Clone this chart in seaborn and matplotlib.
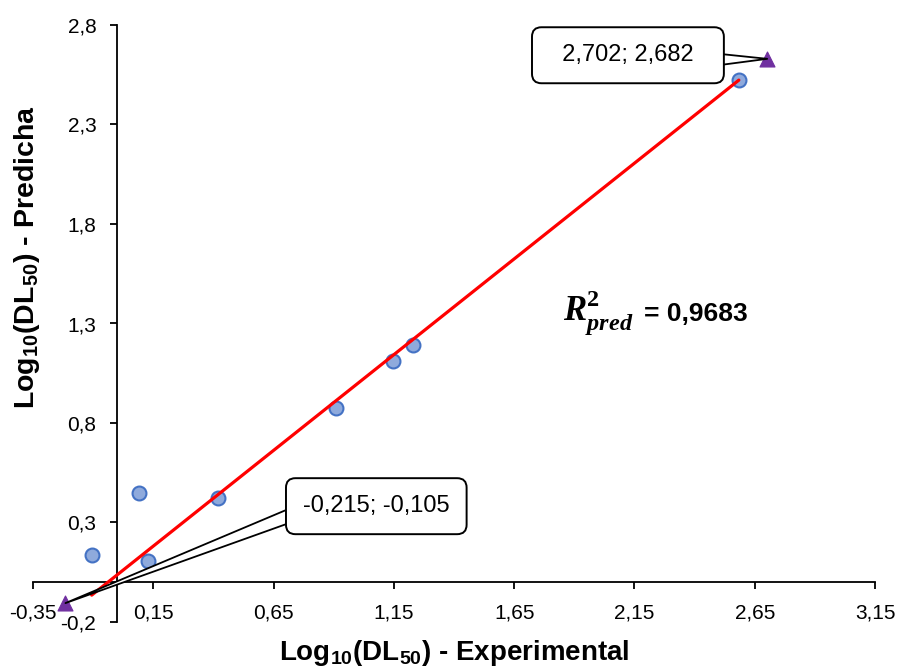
import numpy as np
import pandas as pd
import matplotlib
matplotlib.use("Agg")
import matplotlib.pyplot as plt
import seaborn as sns


# DATA

exp_vals = [-0.105, 0.090, 0.128, 0.420, 0.910, 1.146, 1.229, 2.584]
pred_vals = [0.136, 0.447, 0.106, 0.422, 0.874, 1.110, 1.190, 2.523]

# trend line as drawn in the chart (endpoints)
fit_x = [-0.106, 2.584]
fit_y = [-0.065, 2.523]

# highlighted points (purple triangles)
tri_x = [-0.215, 2.702]
tri_y = [-0.105, 2.630]
tri_labels = ["-0,215; -0,105", "  2,702; 2,682  "]

x_ticks = [-0.35, 0.15, 0.65, 1.15, 1.65, 2.15, 2.65, 3.15]
x_ticklabels = ["-0,35", "0,15", "0,65", "1,15", "1,65", "2,15", "2,65", "3,15"]
y_ticks = [-0.2, 0.3, 0.8, 1.3, 1.8, 2.3, 2.8]
y_ticklabels = ["-0,2", "0,3", "0,8", "1,3", "1,8", "2,3", "2,8"]

r2_math = r"$\mathbfit{R}^{\mathbf{2}}_{\mathbfit{pred}}$"
r2_value = "= 0,9683"


# STYLE

sns.set_style("white")
plt.rcParams["font.family"] = ["Liberation Sans", "DejaVu Sans"]
plt.rcParams["text.color"] = "black"
plt.rcParams["xtick.color"] = "black"
plt.rcParams["ytick.color"] = "black"
plt.rcParams["mathtext.fontset"] = "custom"
plt.rcParams["mathtext.rm"] = "Liberation Sans:bold"
plt.rcParams["mathtext.bf"] = "Liberation Serif:bold"
plt.rcParams["mathtext.bfit"] = "Liberation Serif:italic:bold"

df = pd.DataFrame({"exp": exp_vals, "pred": pred_vals})
df_fit = pd.DataFrame({"x": fit_x, "y": fit_y})
df_tri = pd.DataFrame({"x": tri_x, "y": tri_y})

fig = plt.figure(figsize=(8.97, 6.67), dpi=100)
ax = fig.add_axes([33 / 897, 1 - 622 / 667, (875 - 33) / 897, (622 - 25) / 667])

sns.scatterplot(data=df, x="exp", y="pred", ax=ax, s=100, color="#8FAADC",
                edgecolor="#4472C4", linewidth=1.5, zorder=3)
sns.lineplot(data=df_fit, x="x", y="y", ax=ax, color="#FF0000", lw=2.3, zorder=4)
sns.scatterplot(data=df_tri, x="x", y="y", ax=ax, marker="^", s=115,
                color="#7030A0", edgecolor="#7030A0", zorder=6, clip_on=False)

# callouts
callouts = [
    (tri_labels[0], 0, (1.077, 0.382), (0.0, 0.3)),
    (tri_labels[1], 1, (2.123, 2.648), (1.0, 0.3)),
]
for txt, i, xytext, rp in callouts:
    ax.annotate(txt, xy=(tri_x[i], tri_y[i]), xytext=xytext,
                textcoords="data", ha="center", va="center", fontsize=17, zorder=7,
                bbox=dict(boxstyle="round,pad=0.72,rounding_size=0.4",
                          fc="white", ec="black", lw=1.4),
                arrowprops=dict(arrowstyle="wedge,tail_width=0.6", fc="white",
                                ec="black", lw=1.3, relpos=rp, patchA=None,
                                shrinkA=0, shrinkB=0))

# R2 annotation
ax.text(1.853, 1.312, r2_math, fontsize=25, ha="left", va="baseline")
ax.text(2.19, 1.312, r2_value, fontsize=19, fontweight="bold",
        ha="left", va="baseline")

# axes crossing at zero like the original
ax.set_xlim(-0.35, 3.15)
ax.set_ylim(-0.2, 2.8)
ax.spines["left"].set_position(("data", 0))
ax.spines["bottom"].set_position(("data", 0))
ax.spines["top"].set_visible(False)
ax.spines["right"].set_visible(False)
for s in ["left", "bottom"]:
    ax.spines[s].set_linewidth(1.3)
    ax.spines[s].set_color("black")

ax.set_xticks(x_ticks)
ax.set_xticklabels(x_ticklabels)
ax.set_yticks(y_ticks)
ax.set_yticklabels(y_ticklabels)
ax.tick_params(axis="both", direction="out", length=5, width=1.3, labelsize=15,
               pad=10, colors="black", bottom=True, left=True)
ax.set_xlabel("")
ax.set_ylabel("")

fig.text(454 / 897, 1 - 653 / 667, r"Log$_{10}$(DL$_{50}$) - Experimental",
         fontsize=20, fontweight="bold", ha="center", va="center")
fig.text(27 / 897, 1 - 257 / 667, r"Log$_{10}$(DL$_{50}$) - Predicha",
         fontsize=20.5, fontweight="bold", ha="center", va="center", rotation=90)

plt.savefig("out.png", dpi=100)
